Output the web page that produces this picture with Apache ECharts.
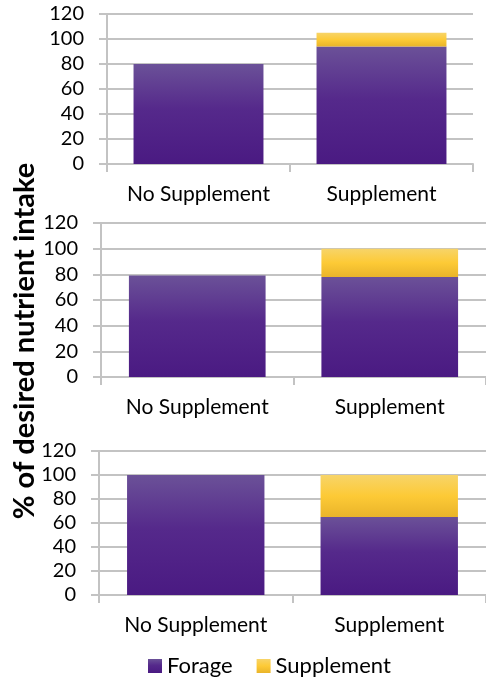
<!DOCTYPE html>
<html>
<head>
<meta charset="utf-8">
<script src="https://cdn.jsdelivr.net/npm/echarts@6/dist/echarts.min.js"></script>
<style>
  html, body { margin: 0; padding: 0; background: #fff; }
  #chart { width: 486px; height: 679px; }
</style>
</head>
<body>
<div id="chart"></div>
<script>
// Share of desired nutrient intake met by forage and supplement, three scenarios
const categories = ['No Supplement', 'Supplement'];

const forageA = [80, 94];
const supplementA = [0, 11];

const forageB = [79, 78];
const supplementB = [0, 22];

const forageC = [100, 65];
const supplementC = [0, 35];

const yMin = 0;
const yMax = 120;
const yStep = 20;

const FONT = 'Lato, "Open Sans", sans-serif';

function purpleFill() {
  return new echarts.graphic.LinearGradient(0, 0, 0, 1, [
    { offset: 0, color: '#6b5198' },
    { offset: 0.45, color: '#55298b' },
    { offset: 1, color: '#4a1a82' }
  ]);
}
function yellowFill() {
  return new echarts.graphic.LinearGradient(0, 0, 0, 1, [
    { offset: 0, color: '#f7d469' },
    { offset: 0.5, color: '#fdca36' },
    { offset: 1, color: '#e9b42a' }
  ]);
}

const panels = [
  { forage: forageA, supplement: supplementA, grid: { left: 107, top: 14, width: 366, height: 150 } },
  { forage: forageB, supplement: supplementB, grid: { left: 101, top: 223, width: 388, height: 154 } },
  { forage: forageC, supplement: supplementC, grid: { left: 99, top: 451, width: 389, height: 144 } }
];

const grid = [], xAxis = [], yAxis = [], series = [];
const gridColor = '#c3c3c3';

panels.forEach((p, i) => {
  grid.push(Object.assign({ containLabel: false }, p.grid));
  xAxis.push({
    type: 'category',
    gridIndex: i,
    data: categories,
    axisLine: { show: true, lineStyle: { color: gridColor, width: 2 } },
    axisTick: { show: true, length: 8, lineStyle: { color: gridColor, width: 2 } },
    axisLabel: { color: '#000', fontSize: 21, fontFamily: FONT, margin: 20, interval: 0, hideOverlap: false },
    splitLine: { show: false }
  });
  yAxis.push({
    type: 'value',
    gridIndex: i,
    min: yMin,
    max: yMax,
    interval: yStep,
    axisLine: { show: true, lineStyle: { color: gridColor, width: 2 } },
    axisTick: { show: true, length: 8, lineStyle: { color: gridColor, width: 2 } },
    axisLabel: { color: '#000', fontSize: 20, fontFamily: FONT, margin: 23 },
    splitLine: { show: true, lineStyle: { color: gridColor, width: 2 } }
  });
  series.push({
    name: 'Forage',
    type: 'bar',
    stack: 'intake' + i,
    xAxisIndex: i,
    yAxisIndex: i,
    barWidth: '71%',
    data: p.forage,
    itemStyle: { color: purpleFill() },
    emphasis: { disabled: true }
  });
  series.push({
    name: 'Supplement',
    type: 'bar',
    stack: 'intake' + i,
    xAxisIndex: i,
    yAxisIndex: i,
    barWidth: '71%',
    data: p.supplement,
    itemStyle: { color: yellowFill() },
    emphasis: { disabled: true }
  });
});

const chart = echarts.init(document.getElementById('chart'), null, { renderer: 'canvas' });
chart.setOption({
  animation: false,
  backgroundColor: '#fff',
  grid: grid,
  xAxis: xAxis,
  yAxis: yAxis,
  series: series,
  legend: {
    data: ['Forage', 'Supplement'],
    left: 148,
    top: 655,
    padding: 0,
    itemWidth: 14,
    itemHeight: 14,
    itemGap: 24,
    icon: 'rect',
    textStyle: { color: '#000', fontSize: 22, fontFamily: FONT },
    selectedMode: false
  },
  graphic: [{
    type: 'text',
    x: 25,
    y: 341,
    rotation: Math.PI / 2,
    style: {
      text: '% of desired nutrient intake',
      font: 'bold 29px ' + FONT,
      fill: '#000',
      textAlign: 'center',
      textVerticalAlign: 'middle'
    }
  }]
});
</script>
</body>
</html>
